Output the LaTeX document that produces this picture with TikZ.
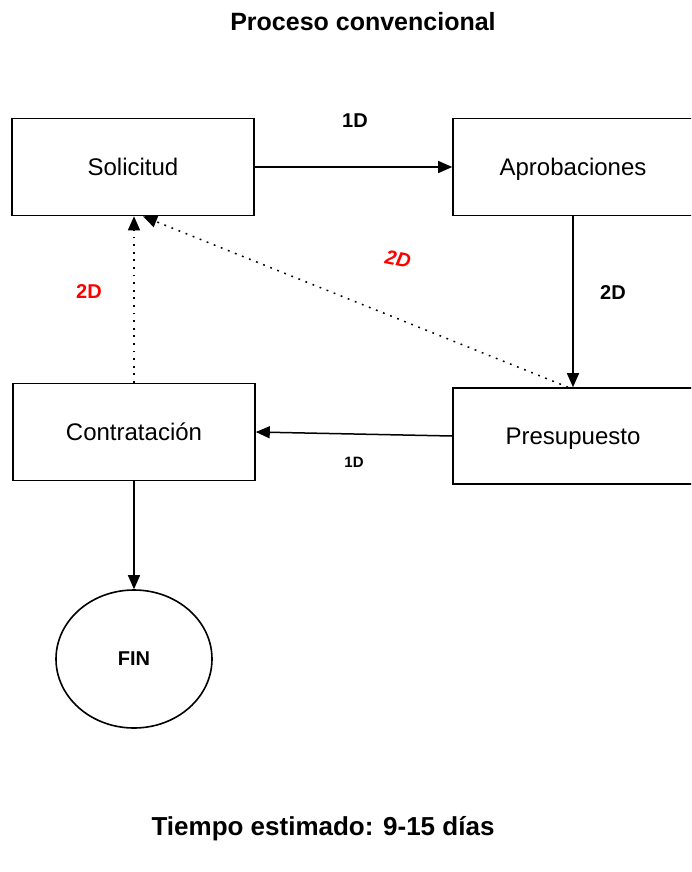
\documentclass[tikz,border=0pt]{standalone}
\usepackage{fontspec}
\setmainfont{Liberation Sans}
\usetikzlibrary{arrows.meta,shapes.geometric}

\begin{document}
\begin{tikzpicture}[x=1pt,y=-1pt,
  caja/.style={draw, line width=1.6pt, minimum width=242pt, minimum height=97pt,
    inner sep=0pt, text height=17pt, text depth=0pt, font=\fontsize{24}{28}\selectfont},
  flecha/.style={line width=1.5pt, -{Triangle[length=14pt,width=12pt]}},
  punteada/.style={flecha, dash pattern=on 1.8pt off 5.8pt},
  dias/.style={font=\bfseries\fontsize{20}{24}\selectfont}]
\clip (0,0) rectangle (691,872);

\node[font=\bfseries\fontsize{25}{30}\selectfont] (titulo) at (363,22) {Proceso convencional};

\node[caja] (sol) at (133,167) {Solicitud};
\node[caja, minimum width=240pt] (apr) at (573,167) {Aprobaciones};
\node[caja, minimum width=240pt, minimum height=96pt] (pre) at (573,436) {Presupuesto};
\node[caja] (con) at (134,432) {Contrataci\'on};
\node[draw, ellipse, line width=1.6pt, minimum width=156pt, minimum height=138pt,
  inner sep=0pt, font=\bfseries\fontsize{20}{24}\selectfont] (fin) at (134,659) {FIN};

\draw[flecha] (sol.east) -- (apr.west);
\draw[flecha] (apr.south) -- (pre.north);
\draw[flecha] (pre.west) -- (con.east);
\draw[flecha] (con.south) -- (fin.north);

% retornos
\draw[punteada] (con.north) -- (sol.south -| con.north);
\draw[punteada] ([xshift=-5pt]pre.north) -- ([xshift=10pt]sol.south);

\node[dias] (d1) at (355,121) {1D};
\node[dias] (d2) at (613,293) {2D};
\node[dias, text=red] (d3) at (89,292) {2D};
\node[text=red, inner sep=1pt, font=\bfseries\itshape\fontsize{20}{24}\selectfont, rotate=-11] (d4) at (398,259) {2D};
\node[font=\bfseries\fontsize{15}{18}\selectfont] (d5) at (354,462) {1D};

\node[font=\bfseries\fontsize{26}{30}\selectfont] (tiempo) at (323,829) {Tiempo estimado: 9-15 días};
\end{tikzpicture}
\end{document}
